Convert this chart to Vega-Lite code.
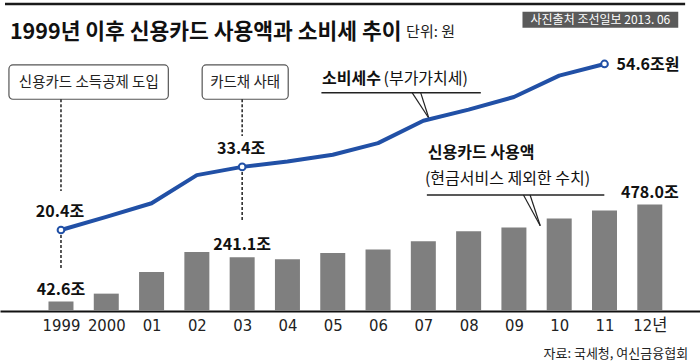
{
  "$schema": "https://vega.github.io/schema/vega-lite/v6.json",
  "width": 700,
  "height": 311,
  "autosize": {"type": "none"},
  "padding": {"left": 0, "top": 0, "right": 0, "bottom": 53},
  "background": "white",
  "config": {"view": {"stroke": null}, "text": {"font": "Noto Sans CJK KR"},
    "axisX": {"title": null, "grid": false, "ticks": false, "domainColor": "#111", "domainWidth": 2,
              "labelFont": "Liberation Sans Narrow, DejaVu Sans Condensed, Noto Sans CJK KR",
              "labelFontSize": 16.5, "labelColor": "#222", "labelPadding": 6}},
  "datasets": {
    "card": [
      {"year": 1999, "usage": 42.6, "label": "42.6조"},
      {"year": 2000, "usage": 78},
      {"year": 2001, "usage": 175},
      {"year": 2002, "usage": 265},
      {"year": 2003, "usage": 241.1, "label": "241.1조"},
      {"year": 2004, "usage": 232},
      {"year": 2005, "usage": 261},
      {"year": 2006, "usage": 276},
      {"year": 2007, "usage": 313},
      {"year": 2008, "usage": 358},
      {"year": 2009, "usage": 375},
      {"year": 2010, "usage": 415},
      {"year": 2011, "usage": 452},
      {"year": 2012, "usage": 478.0, "label": "478.0조"}
    ],
    "vat": [
      {"year": 1999, "tax": 20.4, "label": "20.4조"},
      {"year": 2000, "tax": 23.1},
      {"year": 2001, "tax": 25.9},
      {"year": 2002, "tax": 31.7},
      {"year": 2003, "tax": 33.4, "label": "33.4조"},
      {"year": 2004, "tax": 34.5},
      {"year": 2005, "tax": 35.9},
      {"year": 2006, "tax": 38.3},
      {"year": 2007, "tax": 42.9},
      {"year": 2008, "tax": 45.2},
      {"year": 2009, "tax": 47.8},
      {"year": 2010, "tax": 52.2},
      {"year": 2011, "tax": 54.6, "label": "54.6조원"}
    ]
  },
  "resolve": {"scale": {"y": "independent"}},
  "layer": [
    {
      "layer": [
        {
          "data": {"name": "card"},
          "mark": {"type": "bar", "orient": "vertical", "size": 25, "color": "#7f7f7f"},
          "encoding": {
            "x": {"field": "year", "type": "quantitative",
                  "scale": {"domain": [1997.764, 2012.998], "nice": false, "zero": false},
                  "axis": {"title": null, "values": [1999,2000,2001,2002,2003,2004,2005,2006,2007,2008,2009,2010,2011,2012],
                           "labelExpr": "datum.value == 1999 ? '1999' : datum.value == 2000 ? '2000' : datum.value == 2012 ? '12년' : (datum.value < 2010 ? '0' : '') + (datum.value - 2000)",
                           "grid": false, "ticks": false}},
            "y": {"field": "usage", "type": "quantitative",
                  "scale": {"domain": [0, 1397], "nice": false, "zero": false}, "axis": null},
            "y2": {"datum": 0}
          }
        },
        {
          "data": {"name": "card"},
          "transform": [{"filter": "isValid(datum.label)"}],
          "mark": {"type": "text", "fontSize": 16, "fontWeight": "bold", "color": "#111", "baseline": "alphabetic", "dy": -7},
          "encoding": {
            "x": {"field": "year", "type": "quantitative"},
            "y": {"field": "usage", "type": "quantitative", "axis": null},
            "text": {"field": "label"}
          }
        },
        {
          "data": {"values": [{}]},
          "mark": {"type": "rule", "color": "#1a1a1a", "strokeWidth": 2.5},
          "encoding": {
            "x": {"datum": 1997.764}, "x2": {"datum": 2012.78},
            "y": {"datum": 1379.2, "axis": null}
          }
        },
        {
          "data": {"values": [{}]},
          "mark": {"type": "rect", "color": "#5a5a5a"},
          "encoding": {
            "x": {"datum": 2009.189}, "x2": {"datum": 2012.628},
            "y": {"datum": 1344.6, "axis": null}, "y2": {"datum": 1272.7}
          }
        },
        {
          "data": {"values": [{"t": "사진출처 조선일보 2013. 06"}]},
          "mark": {"type": "text", "fontSize": 12, "color": "white", "align": "center", "baseline": "middle"},
          "encoding": {
            "x": {"datum": 2010.909},
            "y": {"datum": 1308.6, "axis": null},
            "text": {"field": "t"}
          }
        },
        {
          "data": {"values": [{"t": "1999년 이후 신용카드 사용액과 소비세 추이"}]},
          "mark": {"type": "text", "fontSize": 21.5, "fontWeight": "bold", "color": "#111", "align": "left", "baseline": "alphabetic"},
          "encoding": {
            "x": {"datum": 1997.873},
            "y": {"datum": 1224, "axis": null},
            "text": {"field": "t"}
          }
        },
        {
          "data": {"values": [{"t": "단위: 원"}]},
          "mark": {"type": "text", "fontSize": 15, "color": "#222", "align": "left", "baseline": "alphabetic"},
          "encoding": {
            "x": {"datum": 2006.62},
            "y": {"datum": 1233, "axis": null},
            "text": {"field": "t"}
          }
        },
        {
          "data": {"values": [{}]},
          "mark": {"type": "rect", "fill": "white", "stroke": "#555", "strokeWidth": 1.2, "cornerRadius": 4},
          "encoding": {
            "x": {"datum": 1997.851}, "x2": {"datum": 2001.37},
            "y": {"datum": 1105.2, "axis": null}, "y2": {"datum": 951.1}
          }
        },
        {
          "data": {"values": [{"t": "신용카드 소득공제 도입"}]},
          "mark": {"type": "text", "fontSize": 14.5, "color": "#222", "align": "center", "baseline": "middle"},
          "encoding": {
            "x": {"datum": 1999.614},
            "y": {"datum": 1022, "axis": null},
            "text": {"field": "t"}
          }
        },
        {
          "data": {"values": [{}]},
          "mark": {"type": "rect", "fill": "white", "stroke": "#555", "strokeWidth": 1.2, "cornerRadius": 4},
          "encoding": {
            "x": {"datum": 2002.117}, "x2": {"datum": 2004.017},
            "y": {"datum": 1105.2, "axis": null}, "y2": {"datum": 951.1}
          }
        },
        {
          "data": {"values": [{"t": "카드채 사태"}]},
          "mark": {"type": "text", "fontSize": 14.5, "color": "#222", "align": "center", "baseline": "middle"},
          "encoding": {
            "x": {"datum": 2003.065},
            "y": {"datum": 1022, "axis": null},
            "text": {"field": "t"}
          }
        },
        {
          "data": {"values": [{}]},
          "mark": {"type": "rule", "color": "#222", "strokeWidth": 1.5, "strokeDash": [3, 2]},
          "encoding": {
            "x": {"datum": 1999},
            "y": {"datum": 951.1, "axis": null}, "y2": {"datum": 539.1}
          }
        },
        {
          "data": {"values": [{}]},
          "mark": {"type": "rule", "color": "#222", "strokeWidth": 1.5, "strokeDash": [3, 2]},
          "encoding": {
            "x": {"datum": 1999},
            "y": {"datum": 341.4, "axis": null}, "y2": {"datum": 188.7}
          }
        },
        {
          "data": {"values": [{}]},
          "mark": {"type": "rule", "color": "#222", "strokeWidth": 1.5, "strokeDash": [3, 2]},
          "encoding": {
            "x": {"datum": 2003},
            "y": {"datum": 951.1, "axis": null}, "y2": {"datum": 786.2}
          }
        },
        {
          "data": {"values": [{}]},
          "mark": {"type": "rule", "color": "#222", "strokeWidth": 1.5, "strokeDash": [3, 2]},
          "encoding": {
            "x": {"datum": 2003},
            "y": {"datum": 624.5, "axis": null}, "y2": {"datum": 399.8}
          }
        },
        {
          "data": {"values": [{"t": "소비세수"}]},
          "mark": {"type": "text", "fontSize": 16, "fontWeight": "bold", "color": "#111", "align": "left", "baseline": "middle"},
          "encoding": {
            "x": {"datum": 2004.765},
            "y": {"datum": 1042.3, "axis": null},
            "text": {"field": "t"}
          }
        },
        {
          "data": {"values": [{"t": "(부가가치세)"}]},
          "mark": {"type": "text", "fontSize": 16, "color": "#111", "align": "left", "baseline": "middle"},
          "encoding": {
            "x": {"datum": 2006.121},
            "y": {"datum": 1042.3, "axis": null},
            "text": {"field": "t"}
          }
        },
        {
          "data": {"values": [{}]},
          "mark": {"type": "rule", "color": "#222", "strokeWidth": 1.5},
          "encoding": {
            "x": {"datum": 2004.75}, "x2": {"datum": 2008.269},
            "y": {"datum": 980.7, "axis": null}
          }
        },
        {
          "data": {"values": [{}]},
          "mark": {"type": "rule", "color": "#222", "strokeWidth": 1.2},
          "encoding": {
            "x": {"datum": 2006.752}, "x2": {"datum": 2007.122},
            "y": {"datum": 980.7, "axis": null}, "y2": {"datum": 865.7}
          }
        },
        {
          "data": {"values": [{}]},
          "mark": {"type": "rule", "color": "#222", "strokeWidth": 1.2},
          "encoding": {
            "x": {"datum": 2006.941}, "x2": {"datum": 2007.122},
            "y": {"datum": 980.7, "axis": null}, "y2": {"datum": 865.7}
          }
        },
        {
          "data": {"values": [{"t": "신용카드 사용액"}]},
          "mark": {"type": "text", "fontSize": 16, "fontWeight": "bold", "color": "#111", "align": "left", "baseline": "middle"},
          "encoding": {
            "x": {"datum": 2007.1},
            "y": {"datum": 708.5, "axis": null},
            "text": {"field": "t"}
          }
        },
        {
          "data": {"values": [{"t": "(현금서비스 제외한 수치)"}]},
          "mark": {"type": "text", "fontSize": 16, "color": "#111", "align": "left", "baseline": "middle"},
          "encoding": {
            "x": {"datum": 2007.035},
            "y": {"datum": 592.1, "axis": null},
            "text": {"field": "t"}
          }
        },
        {
          "data": {"values": [{}]},
          "mark": {"type": "rule", "color": "#222", "strokeWidth": 1.5},
          "encoding": {
            "x": {"datum": 2007.078}, "x2": {"datum": 2010.996},
            "y": {"datum": 521.1, "axis": null}
          }
        },
        {
          "data": {"values": [{}]},
          "mark": {"type": "rule", "color": "#222", "strokeWidth": 1.2},
          "encoding": {
            "x": {"datum": 2009.211}, "x2": {"datum": 2009.581},
            "y": {"datum": 521.1, "axis": null}, "y2": {"datum": 383.2}
          }
        },
        {
          "data": {"values": [{}]},
          "mark": {"type": "rule", "color": "#222", "strokeWidth": 1.2},
          "encoding": {
            "x": {"datum": 2009.357}, "x2": {"datum": 2009.581},
            "y": {"datum": 521.1, "axis": null}, "y2": {"datum": 383.2}
          }
        },
        {
          "data": {"values": [{"t": "자료: 국세청, 여신금융협회"}]},
          "mark": {"type": "text", "fontSize": 13, "color": "#222", "align": "right", "baseline": "middle"},
          "encoding": {
            "x": {"datum": 2012.846},
            "y": {"datum": -193.2, "axis": null},
            "text": {"field": "t"}
          }
        }
      ]
    },
    {
      "data": {"name": "vat"},
      "layer": [
        {
          "mark": {"type": "line", "color": "#2150a6", "strokeWidth": 4, "strokeJoin": "round", "strokeCap": "round"},
          "encoding": {
            "x": {"field": "year", "type": "quantitative"},
            "y": {"field": "tax", "type": "quantitative",
                  "scale": {"domain": [3.71, 67.78], "nice": false, "zero": false}, "axis": null}
          }
        },
        {
          "transform": [{"filter": "isValid(datum.label)"}],
          "mark": {"type": "point", "filled": true, "fill": "white", "stroke": "#2150a6", "strokeWidth": 2, "size": 45, "opacity": 1},
          "encoding": {
            "x": {"field": "year", "type": "quantitative"},
            "y": {"field": "tax", "type": "quantitative", "axis": null}
          }
        },
        {
          "transform": [{"filter": "isValid(datum.label) && datum.year < 2011"}],
          "mark": {"type": "text", "fontSize": 16, "fontWeight": "bold", "color": "#111", "align": "center", "baseline": "alphabetic", "dy": -13, "dx": -1},
          "encoding": {
            "x": {"field": "year", "type": "quantitative"},
            "y": {"field": "tax", "type": "quantitative", "axis": null},
            "text": {"field": "label"}
          }
        },
        {
          "transform": [{"filter": "datum.year == 2011"}],
          "mark": {"type": "text", "fontSize": 16, "fontWeight": "bold", "color": "#111", "align": "left", "baseline": "alphabetic", "dx": 12, "dy": 6},
          "encoding": {
            "x": {"field": "year", "type": "quantitative"},
            "y": {"field": "tax", "type": "quantitative", "axis": null},
            "text": {"field": "label"}
          }
        }
      ]
    }
  ]
}
